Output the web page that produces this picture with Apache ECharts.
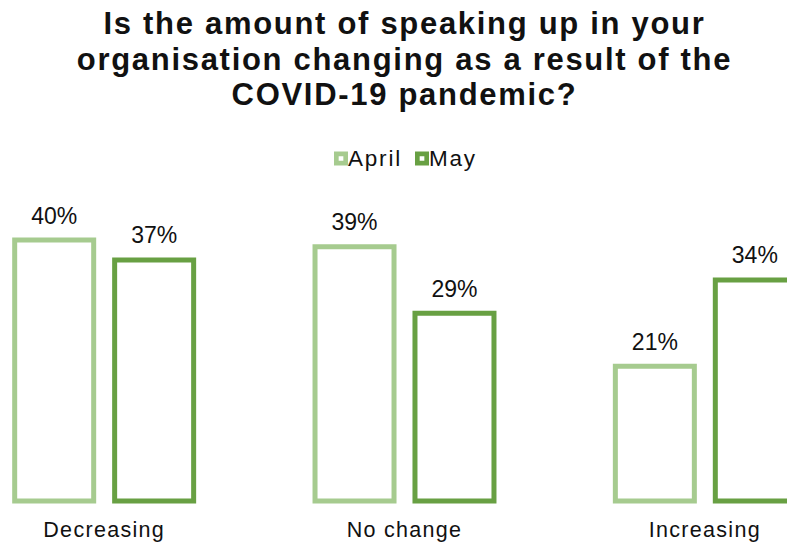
<!DOCTYPE html>
<html>
<head>
<meta charset="utf-8">
<script src="https://cdn.jsdelivr.net/npm/echarts@6/dist/echarts.min.js"></script>
<style>
  html, body { margin: 0; padding: 0; background: #fff; width: 787px; height: 543px; overflow: hidden; position: relative; }
  #chart { width: 901px; height: 543px; position: absolute; left: -46px; top: 0; }
  #chart text[style*="31px"] { letter-spacing: 1.7px; }
  #chart text[style*="22.5px"] { letter-spacing: 1.8px; }
  #chart text[style*="21.5px"] { letter-spacing: 1.3px; }
</style>
</head>
<body>
<div id="chart"></div>
<script>
const titleText = 'Is the amount of speaking up in your\norganisation changing as a result of the\nCOVID-19 pandemic?';
const categories = ['Decreasing', 'No change', 'Increasing'];
const seriesNames = ['April', 'May'];
const aprilValues = [40, 39, 21];
const mayValues = [37, 29, 34];

const FONT = '"Liberation Sans", Arial, sans-serif';
const colors = ['#a6cb8f', '#68a043'];
const ringIcon = 'path://M0,0H12V12H0Z M4,4V8H8V4Z';

const chart = echarts.init(document.getElementById('chart'), null, { renderer: 'svg' });

function makeSeries(name, data, color) {
  return {
    name: name,
    type: 'bar',
    data: data,
    barWidth: 84,
    barGap: '19%',
    itemStyle: { color: '#ffffff', borderColor: color, borderWidth: 5 },
    label: {
      show: true,
      position: 'top',
      distance: 10.5,
      formatter: '{c}%',
      color: '#111',
      fontSize: 23,
      fontFamily: FONT
    }
  };
}

chart.setOption({
  animation: false,
  backgroundColor: '#ffffff',
  title: {
    text: titleText,
    left: 'center',
    top: 6,
    padding: 0,
    textStyle: {
      fontSize: 31,
      fontWeight: 'bold',
      fontFamily: FONT,
      color: '#111',
      lineHeight: 35.5
    }
  },
  legend: {
    data: seriesNames.map((n, i) => ({
      name: n,
      icon: ringIcon,
      itemStyle: { color: colors[i], borderWidth: 0 }
    })),
    left: 380,
    top: 147,
    padding: 0,
    itemWidth: 14,
    itemHeight: 14,
    itemGap: 22,
    textStyle: { fontSize: 22.5, fontFamily: FONT, color: '#111', padding: [0, 0, 0, -5] }
  },
  grid: { left: 0, right: 0, top: 237.5, bottom: 39.5, containLabel: false },
  xAxis: {
    type: 'category',
    data: categories,
    axisLine: { show: false },
    axisTick: { show: false },
    axisLabel: { margin: 15.5, fontSize: 21.5, fontFamily: FONT, color: '#111', interval: 0 }
  },
  yAxis: {
    type: 'value',
    min: 0,
    max: 40,
    show: false,
    splitLine: { show: false }
  },
  series: [
    makeSeries(seriesNames[0], aprilValues, colors[0]),
    makeSeries(seriesNames[1], mayValues, colors[1])
  ]
});
</script>
</body>
</html>
